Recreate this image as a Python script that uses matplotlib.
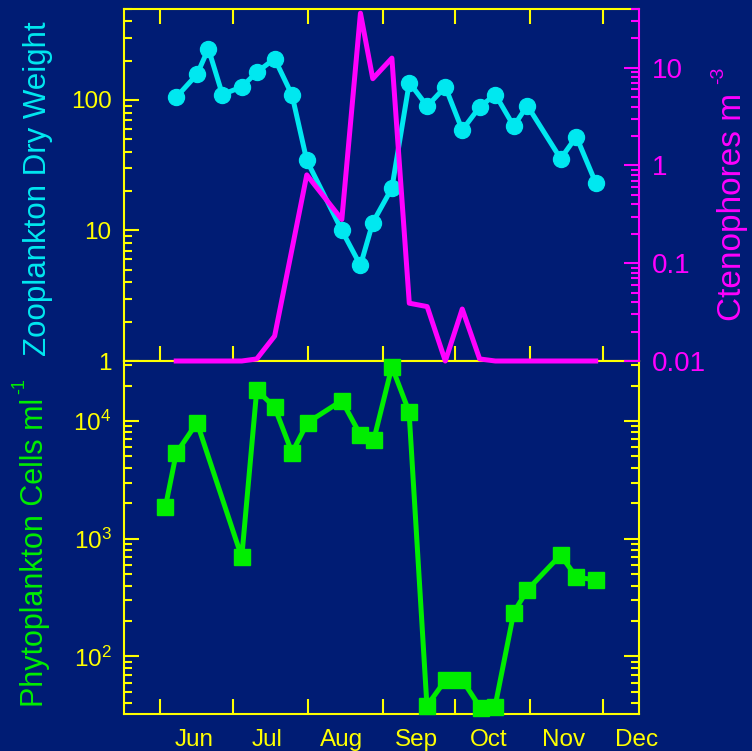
import numpy as np
import matplotlib
matplotlib.use('Agg')
import matplotlib.pyplot as plt
from matplotlib.ticker import FixedLocator, FuncFormatter, NullFormatter

plt.rcParams['font.family'] = ['Liberation Sans', 'DejaVu Sans']
plt.rcParams['mathtext.fontset'] = 'custom'
plt.rcParams['mathtext.rm'] = 'Liberation Sans'

# day of year for each sampling date
zoo_days = [158.6, 167.2, 171.9, 177.7, 185.7, 191.9, 199.3, 206.5, 212.6, 227.1, 234.8, 239.9,
            247.8, 255.0, 262.4, 269.9, 276.9, 284.1, 290.6, 298.2, 303.8, 317.6, 324.1, 332.1]
zoo_weight = [105, 157, 247, 110, 126, 163, 207, 109, 34.4, 10, 5.4, 11.5,
              21.1, 136, 89.6, 126, 58.8, 88.4, 110, 63, 90.6, 35.5, 52.3, 23.2]
cteno = [0.01, 0.01, 0.01, 0.01, 0.01, 0.0105, 0.018, 0.14, 0.8, 0.28, 36, 7.7,
         12.5, 0.039, 0.036, 0.01, 0.034, 0.0105, 0.01, 0.01, 0.01, 0.01, 0.01, 0.01]

phyto_days = [154.1, 158.6, 167.2, 185.7, 191.9, 199.3, 206.5, 212.9, 227.1, 234.8, 240.3, 247.8,
              254.9, 262.3, 270.0, 276.9, 284.5, 290.4, 298.2, 303.8, 317.6, 324.1, 332.1]
phyto_cells = [1850, 5320, 9680, 697, 18300, 13100, 5380, 9680, 14900, 7600, 6900, 28900,
               12000, 38.1, 63.2, 63.2, 36.4, 37, 236, 367, 728, 471, 447]

month_starts = [152, 182, 213, 244, 274, 305, 335]
month_mids = [166, 196, 227, 258, 288, 319, 349]
month_names = ['Jun', 'Jul', 'Aug', 'Sep', 'Oct', 'Nov', 'Dec']

bg = '#001c74'
yellow = '#ffff00'
cyan = '#00e8f0'
magenta = '#ff00ff'
green = '#00ee00'

fig = plt.figure(figsize=(7.52, 7.51), dpi=100, facecolor=bg)
ax1 = fig.add_axes([0.1649, 0.5193, 0.6848, 0.4691], facecolor=bg)
ax2 = fig.add_axes([0.1649, 0.0493, 0.6848, 0.4700], facecolor=bg)
ax3 = ax1.twinx()

gfmt = FuncFormatter(lambda v, p: '%g' % v)

# top panel: zooplankton
ax1.plot(zoo_days, zoo_weight, color=cyan, lw=3.6, marker='o', ms=11.5, clip_on=False, zorder=3)
ax1.set_yscale('log')
ax1.set_ylim(1, 500)
ax1.set_xlim(137, 350)
ax1.yaxis.set_major_formatter(gfmt)
ax1.yaxis.set_minor_formatter(NullFormatter())
ax1.xaxis.set_major_locator(FixedLocator(month_starts))
ax1.xaxis.set_minor_locator(FixedLocator([]))
ax1.tick_params(axis='x', which='major', direction='in', top=True, bottom=True, length=11,
                width=1.5, color=yellow, labelbottom=False)
ax1.tick_params(axis='y', which='major', direction='in', left=True, right=False, length=11,
                width=1.5, color=yellow, labelcolor=yellow, labelsize=17.5, pad=9)
ax1.tick_params(axis='y', which='minor', direction='in', left=True, right=False, length=6,
                width=1.5, color=yellow)
for s in ['left', 'top', 'bottom']:
    ax1.spines[s].set_color(yellow)
    ax1.spines[s].set_linewidth(1.5)
ax1.spines['right'].set_visible(False)

# ctenophores on the right axis
ax3.plot(zoo_days, cteno, color=magenta, lw=3.6, clip_on=False, zorder=4)
ax3.set_yscale('log')
ax3.set_ylim(0.01, 40)
ax3.yaxis.set_major_formatter(gfmt)
ax3.yaxis.set_minor_formatter(NullFormatter())
ax3.tick_params(axis='y', which='major', direction='in', length=11, width=1.5,
                color=magenta, labelcolor=magenta, labelsize=20, pad=9)
ax3.tick_params(axis='y', which='minor', direction='in', length=6, width=1.5, color=magenta)
for s in ['left', 'top', 'bottom']:
    ax3.spines[s].set_visible(False)
ax3.spines['right'].set_color(magenta)
ax3.spines['right'].set_linewidth(1.5)

# bottom panel: phytoplankton
ax2.plot(phyto_days, phyto_cells, color=green, lw=3.6, marker='s', ms=11, clip_on=False, zorder=3)
ax2.set_yscale('log')
ax2.set_ylim(32.5, 32300)
ax2.set_xlim(137, 350)
ax2.yaxis.set_minor_formatter(NullFormatter())
ax2.xaxis.set_major_locator(FixedLocator(month_starts))
ax2.xaxis.set_minor_locator(FixedLocator(month_mids))
ax2.xaxis.set_major_formatter(NullFormatter())
ax2.xaxis.set_minor_formatter(FuncFormatter(lambda v, p: month_names[p] if p < len(month_names) else ''))
ax2.tick_params(axis='x', which='major', direction='in', top=False, bottom=True, length=11,
                width=1.5, color=yellow)
ax2.tick_params(axis='x', which='minor', length=0, labelcolor=yellow, labelsize=17.5, pad=11)
ax2.tick_params(axis='y', which='major', direction='in', left=True, right=True, length=11,
                width=1.5, color=yellow, labelcolor=yellow, labelsize=17.5, pad=9)
ax2.tick_params(axis='y', which='minor', direction='in', left=True, right=True, length=6,
                width=1.5, color=yellow)
for s in ax2.spines.values():
    s.set_color(yellow)
    s.set_linewidth(1.5)

# axis titles, superscripts drawn as their own small texts
fig.text(38 / 752, 1 - 189 / 751, 'Zooplankton Dry Weight', color=cyan, fontsize=22.5,
         rotation=90, ha='center', va='center')
fig.text(35 / 752, 1 - 552 / 751, 'Phytoplankton Cells ml', color=green,
         fontsize=22, rotation=90, ha='center', va='center')
fig.text(20 / 752, 1 - 386 / 751, '-1', color=green,
         fontsize=13, rotation=90, ha='center', va='center')
fig.text(733 / 752, 1 - 207 / 751, 'Ctenophores m', color=magenta,
         fontsize=24, rotation=90, ha='center', va='center')
fig.text(719 / 752, 1 - 75 / 751, '-3', color=magenta,
         fontsize=14, rotation=90, ha='center', va='center')

fig.savefig('out.png', dpi=100, facecolor=bg)
